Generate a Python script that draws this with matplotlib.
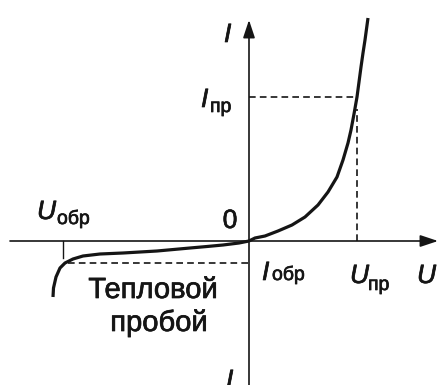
import matplotlib
matplotlib.use('Agg')
import matplotlib.pyplot as plt
import matplotlib.patheffects as pe

plt.rcParams['font.family'] = ['Liberation Sans', 'DejaVu Sans']

# diode I-V curve, forward branch (U, I in arbitrary units)
u_fwd = [0.00, 0.06, 0.16, 0.29, 0.43, 0.56, 0.69, 0.79, 0.88, 0.94, 0.99, 1.02, 1.05, 1.08, 1.10, 1.12, 1.14, 1.16, 1.19]
i_fwd = [0.00, 0.03, 0.05, 0.10, 0.16, 0.24, 0.36, 0.49, 0.64, 0.81, 0.98, 1.11, 1.27, 1.44, 1.59, 1.74, 1.88, 2.01, 2.23]

# reverse branch with thermal breakdown at the left end
u_rev = [0.00, -0.10, -0.26, -0.42, -0.59, -0.92, -1.26, -1.49, -1.66, -1.76, -1.84, -1.89, -1.93, -1.955, -1.96]
i_rev = [0.00, -0.02, -0.04, -0.055, -0.07, -0.10, -0.12, -0.13, -0.15, -0.18, -0.22, -0.27, -0.36, -0.47, -0.56]

u_pr, i_pr = 1.08, 1.44      # forward operating point
u_obr, i_obr = -1.86, -0.22  # reverse voltage / reverse current

ink = '#151515'

fig = plt.figure(figsize=(4.39, 3.85), dpi=100)
ax = fig.add_axes([0, 0, 1, 1])
ax.set_xlim(-2.49, 1.90)
ax.set_ylim(-1.44, 2.41)
ax.axis('off')

# axes with arrows
arrow = dict(arrowstyle='-|>,head_length=0.6,head_width=0.2', mutation_scale=18,
             lw=1.2, color=ink, shrinkA=0, shrinkB=0)
ax.annotate('', xy=(1.89, 0), xytext=(-2.39, 0), arrowprops=arrow)
ax.annotate('', xy=(0, 2.21), xytext=(0, -1.44), arrowprops=arrow)

# the characteristic
ax.plot(u_fwd, i_fwd, color=ink, lw=2.3, solid_joinstyle='round', solid_capstyle='butt')
ax.plot(u_rev, i_rev, color=ink, lw=2.3, solid_joinstyle='round', solid_capstyle='butt')

# dashed helper lines
dash = dict(color=ink, lw=1.2, ls=(0, (4, 2.5)))
ax.plot([0, u_pr], [i_pr, i_pr], **dash)
ax.plot([u_pr, u_pr], [0, i_pr - 0.12], **dash)
ax.plot([u_obr + 0.05, 0], [i_obr, i_obr], **dash)
ax.plot([u_obr, u_obr], [0, -0.17], color=ink, lw=1.0)

# slightly heavier glyphs
thick = [pe.withStroke(linewidth=0.5, foreground=ink)]

big = 19
small = 14
it = dict(fontsize=big, style='italic', color=ink, va='baseline', ha='left', path_effects=thick)
sub = dict(fontsize=small, color=ink, va='baseline', ha='left', path_effects=thick)

ax.text(-0.25, 1.99, 'I', **it)
ax.text(-0.48, 1.34, 'I', **it)
ax.text(-0.39, 1.29, 'пр', **sub)
ax.text(-0.19, 0.13, '0', fontsize=big, color=ink, va='baseline', ha='center', path_effects=thick)
ax.text(-2.12, 0.22, 'U', **it)
ax.text(-1.92, 0.17, 'обр', **sub)
ax.text(0.13, -0.39, 'I', **it)
ax.text(0.23, -0.39, 'обр', **sub)
ax.text(1.01, -0.42, 'U', **it)
ax.text(1.19, -0.49, 'пр', **sub)
ax.text(1.68, -0.42, 'U', **it)
ax.text(-0.23, -1.47, 'I', **it)

ax.text(-0.96, -0.57, 'Тепловой', fontsize=21, color=ink, va='baseline', ha='center', path_effects=thick)
ax.text(-0.90, -0.90, 'пробой', fontsize=21, color=ink, va='baseline', ha='center', path_effects=thick)

fig.savefig('out.png', dpi=100)
